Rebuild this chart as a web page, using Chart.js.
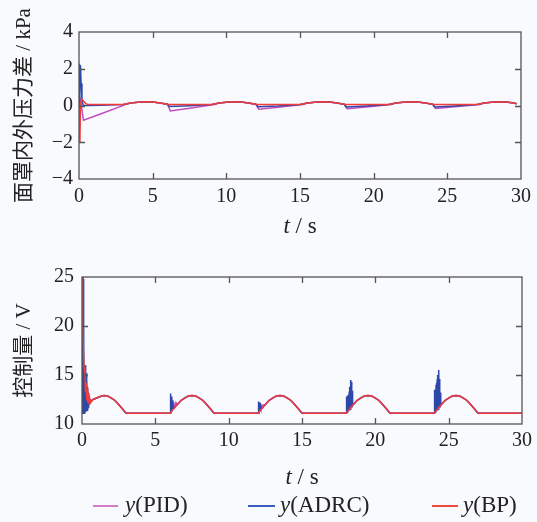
<!DOCTYPE html>
<html>
<head>
<meta charset="utf-8">
<script src="https://cdn.jsdelivr.net/npm/chart.js@4"></script>
<style>
  html, body { margin: 0; padding: 0; background: #f9fafd; }
  #wrap { position: relative; width: 537px; height: 522px; overflow: hidden; }
  canvas { position: absolute; left: 0; }
  .leg { position: absolute; font-size: 23px; font-family: "Liberation Serif", "Times New Roman", Times, serif; color: #222; line-height: 26px; top: 492px; }
  .leg i { font-style: italic; }
  .swatch { position: absolute; height: 2px; top: 505px; }
</style>
</head>
<body>
<div id="wrap">
  <canvas id="top" width="537" height="250" style="top:0"></canvas>
  <canvas id="bottom" width="537" height="250" style="top:250px"></canvas>
  <div class="swatch" style="left:93px;width:25px;background:#d27ccb"></div>
  <div class="leg" style="left:125px"><i>y</i>(PID)</div>
  <div class="swatch" style="left:248px;width:27px;background:#3d5cc4"></div>
  <div class="leg" style="left:280px"><i>y</i>(ADRC)</div>
  <div class="swatch" style="left:432px;width:26px;background:#f04a40"></div>
  <div class="leg" style="left:463px"><i>y</i>(BP)</div>
</div>
<script>
// 面罩内外压力差 (kPa) vs t (s)
const PRESS_PID = [
  [0, 0], [0.1, 0.3], [0.3, -0.8], [1.5, -0.45], [3.2, 0.06],
  [3.5, 0.13], [4, 0.18], [4.5, 0.2], [5, 0.19], [5.5, 0.14], [6, 0.07],
  [6.2, -0.3], [7.5, -0.15], [9.2, 0.06],
  [9.5, 0.13], [10, 0.18], [10.5, 0.2], [11, 0.19], [11.5, 0.14], [12, 0.07],
  [12.2, -0.2], [13.5, -0.1], [15.2, 0.06],
  [15.5, 0.13], [16, 0.18], [16.5, 0.2], [17, 0.19], [17.5, 0.14], [18, 0.07],
  [18.2, -0.17], [19.5, -0.08], [21.2, 0.06],
  [21.5, 0.13], [22, 0.18], [22.5, 0.2], [23, 0.19], [23.5, 0.14], [24, 0.07],
  [24.2, -0.16], [25.5, -0.07], [27.2, 0.06],
  [27.5, 0.13], [28, 0.18], [28.5, 0.2], [29, 0.19], [29.5, 0.14], [29.7, 0.1]
];
const PRESS_ADRC = [
  [0, 0], [0.05, 2.2], [0.1, 2.15], [0.14, 1.2], [0.2, 0.3], [0.28, 0.0], [0.6, 0.0], [1.5, 0.01], [3, 0.05],
  [3.5, 0.13], [4, 0.18], [4.5, 0.2], [5, 0.19], [5.5, 0.14], [6, 0.07],
  [6.15, -0.06], [7.5, -0.02], [9, 0.05],
  [9.5, 0.13], [10, 0.18], [10.5, 0.2], [11, 0.19], [11.5, 0.14], [12, 0.07],
  [12.15, -0.07], [13.5, -0.03], [15, 0.05],
  [15.5, 0.13], [16, 0.18], [16.5, 0.2], [17, 0.19], [17.5, 0.14], [18, 0.07],
  [18.15, -0.08], [19.5, -0.03], [21, 0.05],
  [21.5, 0.13], [22, 0.18], [22.5, 0.2], [23, 0.19], [23.5, 0.14], [24, 0.07],
  [24.15, -0.08], [25.5, -0.03], [27, 0.05],
  [27.5, 0.13], [28, 0.18], [28.5, 0.2], [29, 0.19], [29.5, 0.14], [29.7, 0.1]
];
const PRESS_BP = [
  [0, 0], [0.06, -2.0], [0.1, 0.1], [0.18, 0.35], [0.3, 0.25], [0.45, 0.12], [0.6, 0.05], [1, 0.05], [2, 0.05], [3, 0.06],
  [3.5, 0.13], [4, 0.18], [4.5, 0.2], [5, 0.19], [5.5, 0.14], [6, 0.07],
  [6.1, 0.05], [7, 0.05], [8, 0.05], [9, 0.06],
  [9.5, 0.13], [10, 0.18], [10.5, 0.2], [11, 0.19], [11.5, 0.14], [12, 0.07],
  [12.1, 0.05], [13, 0.05], [14, 0.05], [15, 0.06],
  [15.5, 0.13], [16, 0.18], [16.5, 0.2], [17, 0.19], [17.5, 0.14], [18, 0.07],
  [18.1, 0.05], [19, 0.05], [20, 0.05], [21, 0.06],
  [21.5, 0.13], [22, 0.18], [22.5, 0.2], [23, 0.19], [23.5, 0.14], [24, 0.07],
  [24.1, 0.05], [25, 0.05], [26, 0.05], [27, 0.06],
  [27.5, 0.13], [28, 0.18], [28.5, 0.2], [29, 0.19], [29.5, 0.14], [29.7, 0.1]
];

// 控制量 (V) vs t (s)
const CTRL_PID = [
  [0, 25], [0.05, 16], [0.1, 14.5], [0.15, 12.5], [0.2, 14], [0.25, 12.2], [0.3, 13.5], [0.35, 12.0],
  [0.4, 13], [0.45, 12.1], [0.5, 12.6], [0.6, 12.3], [0.75, 12.5], [1, 12.65], [1.25, 12.8], [1.5, 12.9],
  [1.75, 12.85], [2, 12.65], [2.25, 12.4], [2.5, 12.0], [2.75, 11.55], [3, 11.1], [6, 11.1],
  [6.05, 12.3], [6.1, 11.4], [6.15, 12.2], [6.2, 11.6], [6.25, 12.1], [6.3, 11.8], [6.4, 12.2], [6.5, 12.0],
  [6.75, 12.4], [7, 12.65], [7.25, 12.85], [7.5, 12.9], [7.75, 12.85], [8, 12.65], [8.25, 12.4], [8.5, 12.0], [8.75, 11.55], [9, 11.1], [12, 11.1],
  [12.05, 11.9], [12.1, 11.4], [12.15, 11.9], [12.2, 11.6], [12.3, 11.9], [12.5, 12.0],
  [12.75, 12.4], [13, 12.65], [13.25, 12.85], [13.5, 12.9], [13.75, 12.85], [14, 12.65], [14.25, 12.4], [14.5, 12.0], [14.75, 11.55], [15, 11.1], [18, 11.1],
  [18.25, 11.55], [18.5, 12.0], [18.75, 12.4], [19, 12.65], [19.25, 12.85], [19.5, 12.9], [19.75, 12.85], [20, 12.65], [20.25, 12.4], [20.5, 12.0], [20.75, 11.55], [21, 11.1], [24, 11.1],
  [24.25, 11.55], [24.5, 12.0], [24.75, 12.4], [25, 12.65], [25.25, 12.85], [25.5, 12.9], [25.75, 12.85], [26, 12.65], [26.25, 12.4], [26.5, 12.0], [26.75, 11.55], [27, 11.1], [30, 11.1]
];
const CTRL_ADRC = [
  [0, 11.1], [0.05, 25], [0.08, 24.8], [0.1, 11.1], [0.12, 20.6], [0.14, 11.1], [0.17, 15.9], [0.19, 11.1],
  [0.21, 16], [0.23, 11.2], [0.25, 15.8], [0.27, 11.2], [0.29, 15.2], [0.31, 11.3], [0.33, 14.5], [0.35, 11.4],
  [0.37, 13.8], [0.39, 11.5], [0.41, 13.2], [0.43, 11.6], [0.45, 12.8], [0.47, 11.7], [0.49, 12.5], [0.52, 12.0],
  [0.56, 12.3], [0.75, 12.5], [1, 12.65], [1.25, 12.8], [1.5, 12.9], [1.75, 12.85], [2, 12.65], [2.25, 12.4],
  [2.5, 12.0], [2.75, 11.55], [3, 11.1], [6, 11.1],
  [6.02, 13.1], [6.04, 11.2], [6.06, 13.0], [6.08, 11.3], [6.1, 12.8], [6.12, 11.4], [6.14, 12.4], [6.16, 11.5], [6.2, 12.0], [6.25, 11.6],
  [6.5, 12.0], [6.75, 12.4], [7, 12.65], [7.25, 12.85], [7.5, 12.9], [7.75, 12.85], [8, 12.65], [8.25, 12.4], [8.5, 12.0], [8.75, 11.55], [9, 11.1], [12, 11.1],
  [12.02, 12.3], [12.04, 11.2], [12.06, 12.2], [12.08, 11.3], [12.1, 12.2], [12.12, 11.4], [12.14, 12.1], [12.17, 11.5], [12.2, 11.8], [12.25, 11.55],
  [12.5, 12.0], [12.75, 12.4], [13, 12.65], [13.25, 12.85], [13.5, 12.9], [13.75, 12.85], [14, 12.65], [14.25, 12.4], [14.5, 12.0], [14.75, 11.55], [15, 11.1], [18, 11.1],
  [18.02, 12.8], [18.04, 11.1], [18.06, 12.8], [18.08, 11.2], [18.1, 12.9], [18.12, 11.2], [18.14, 12.9], [18.16, 11.3],
  [18.18, 13.0], [18.2, 11.3], [18.22, 13.3], [18.24, 11.4], [18.26, 13.8], [18.28, 11.5], [18.3, 14.2], [18.32, 11.6],
  [18.34, 14.5], [18.36, 11.7], [18.38, 14.3], [18.4, 11.8], [18.42, 13.4], [18.45, 11.9], [18.5, 12.0],
  [18.75, 12.4], [19, 12.65], [19.25, 12.85], [19.5, 12.9], [19.75, 12.85], [20, 12.65], [20.25, 12.4], [20.5, 12.0], [20.75, 11.55], [21, 11.1], [24, 11.1],
  [24.02, 13.4], [24.04, 11.1], [24.06, 13.5], [24.08, 11.2], [24.1, 13.5], [24.12, 11.2], [24.14, 14.0], [24.16, 11.3],
  [24.18, 14.2], [24.2, 11.3], [24.22, 14.6], [24.24, 11.4], [24.26, 15.0], [24.28, 11.5], [24.3, 15.5], [24.32, 11.6],
  [24.34, 15.3], [24.36, 11.7], [24.38, 14.6], [24.4, 11.8], [24.43, 13.2], [24.46, 11.9], [24.5, 12.0],
  [24.75, 12.4], [25, 12.65], [25.25, 12.85], [25.5, 12.9], [25.75, 12.85], [26, 12.65], [26.25, 12.4], [26.5, 12.0], [26.75, 11.55], [27, 11.1], [30, 11.1]
];
const CTRL_BP = [
  [0, 25], [0.04, 20.5], [0.08, 18], [0.14, 15.8], [0.2, 15.2], [0.24, 13.2], [0.28, 14.2], [0.32, 12.4],
  [0.36, 13.6], [0.4, 12.2], [0.44, 13.1], [0.48, 12.1], [0.53, 12.6], [0.6, 12.2], [0.75, 12.5], [1, 12.65],
  [1.25, 12.8], [1.5, 12.9], [1.75, 12.85], [2, 12.65], [2.25, 12.4], [2.5, 12.0], [2.75, 11.55], [3, 11.1], [6, 11.1],
  [6.25, 11.55], [6.5, 12.0], [6.75, 12.4], [7, 12.65], [7.25, 12.85], [7.5, 12.9], [7.75, 12.85], [8, 12.65], [8.25, 12.4], [8.5, 12.0], [8.75, 11.55], [9, 11.1], [12, 11.1],
  [12.25, 11.55], [12.5, 12.0], [12.75, 12.4], [13, 12.65], [13.25, 12.85], [13.5, 12.9], [13.75, 12.85], [14, 12.65], [14.25, 12.4], [14.5, 12.0], [14.75, 11.55], [15, 11.1], [18, 11.1],
  [18.25, 11.55], [18.5, 12.0], [18.75, 12.4], [19, 12.65], [19.25, 12.85], [19.5, 12.9], [19.75, 12.85], [20, 12.65], [20.25, 12.4], [20.5, 12.0], [20.75, 11.55], [21, 11.1], [24, 11.1],
  [24.25, 11.55], [24.5, 12.0], [24.75, 12.4], [25, 12.65], [25.25, 12.85], [25.5, 12.9], [25.75, 12.85], [26, 12.65], [26.25, 12.4], [26.5, 12.0], [26.75, 11.55], [27, 11.1], [30, 11.1]
];

const X_TITLE = ['t', ' / s'];
const COLORS = { pid: '#c24cbf', adrc: '#2c48a8', bp: '#f23c3c' };
const SERIF = '"Liberation Serif", "Times New Roman", Times, serif';
const CJK = '"Liberation Serif", "Times New Roman", Times, "Noto Sans CJK SC", serif';

const toXY = arr => arr.map(([x, y]) => ({ x, y }));

// box frame, inward ticks on all four sides, axis titles
function framePlugin(yTitle, yTitleX, xTitleY) {
    return {
        id: 'frame',
        afterDraw(chart) {
            const { ctx, chartArea: a, scales: { x, y } } = chart;
            ctx.save();
            ctx.strokeStyle = '#555';
            ctx.lineWidth = 1.3;
            ctx.strokeRect(a.left, a.top, a.right - a.left, a.bottom - a.top);
            ctx.beginPath();
            x.ticks.forEach(t => {
                const px = Math.round(x.getPixelForValue(t.value)) + 0.5;
                if (px <= a.left + 2 || px >= a.right - 2) return;
                ctx.moveTo(px, a.bottom); ctx.lineTo(px, a.bottom - 6);
                ctx.moveTo(px, a.top); ctx.lineTo(px, a.top + 6);
            });
            y.ticks.forEach(t => {
                const py = Math.round(y.getPixelForValue(t.value)) + 0.5;
                if (py <= a.top + 2 || py >= a.bottom - 2) return;
                ctx.moveTo(a.left, py); ctx.lineTo(a.left + 6, py);
                ctx.moveTo(a.right, py); ctx.lineTo(a.right - 6, py);
            });
            ctx.stroke();

            ctx.fillStyle = '#222';
            ctx.textBaseline = 'middle';
            // x title: italic t, upright " / s"
            const cx = (a.left + a.right) / 2;
            ctx.font = 'italic 23px ' + SERIF;
            const w1 = ctx.measureText(X_TITLE[0]).width;
            ctx.font = '23px ' + SERIF;
            const w2 = ctx.measureText(X_TITLE[1]).width;
            let sx = cx - (w1 + w2) / 2;
            ctx.textAlign = 'left';
            ctx.font = 'italic 23px ' + SERIF;
            ctx.fillText(X_TITLE[0], sx, xTitleY);
            ctx.font = '23px ' + SERIF;
            ctx.fillText(X_TITLE[1], sx + w1, xTitleY);

            // y title, rotated
            ctx.translate(yTitleX, (a.top + a.bottom) / 2);
            ctx.rotate(-Math.PI / 2);
            ctx.textAlign = 'center';
            ctx.font = '21px ' + CJK;
            ctx.fillText(yTitle, 0, 0);
            ctx.restore();
        }
    };
}

function makeChart(id, sets, yMin, yMax, yStep, geo, yTitle, xTitleY) {
    const fmt = v => String(v).replace('-', '\u2212');
    return new Chart(document.getElementById(id), {
        type: 'line',
        data: {
            datasets: [
                { label: 'y(PID)', data: toXY(sets[0]), borderColor: COLORS.pid, order: 2 },
                { label: 'y(ADRC)', data: toXY(sets[1]), borderColor: COLORS.adrc, order: 1 },
                { label: 'y(BP)', data: toXY(sets[2]), borderColor: COLORS.bp, order: 0 },
            ]
        },
        options: {
            responsive: false,
            animation: false,
            devicePixelRatio: 1,
            elements: {
                point: { radius: 0 },
                line: { borderWidth: 1.5, tension: 0 }
            },
            layout: { padding: { left: 0, right: geo.right, top: geo.top, bottom: 0 } },
            plugins: { legend: { display: false }, tooltip: { enabled: false } },
            scales: {
                x: {
                    type: 'linear', min: 0, max: 30,
                    grid: { display: false, drawTicks: false },
                    border: { display: false },
                    ticks: { stepSize: 5, padding: geo.xPad, color: '#222', font: { family: SERIF, size: 20 }, maxRotation: 0 },
                    afterFit: s => { s.height = geo.xh; }
                },
                y: {
                    type: 'linear', min: yMin, max: yMax,
                    grid: { display: false, drawTicks: false },
                    border: { display: false },
                    ticks: { stepSize: yStep, padding: geo.yPad, color: '#222', font: { family: SERIF, size: 20 }, callback: fmt },
                    afterFit: s => { s.width = geo.yw; }
                }
            }
        },
        plugins: [framePlugin(yTitle, 24, xTitleY)]
    });
}

makeChart('top', [PRESS_PID, PRESS_ADRC, PRESS_BP], -4, 4, 2,
    { right: 13, top: 32, xh: 71, yw: 79, xPad: 6, yPad: 6 },
    '面罩内外压力差 / kPa', 227);
makeChart('bottom', [CTRL_PID, CTRL_ADRC, CTRL_BP], 10, 25, 5,
    { right: 11, top: 27, xh: 76, yw: 82, xPad: 5, yPad: 8 },
    '控制量 / V', 228);
</script>
</body>
</html>
